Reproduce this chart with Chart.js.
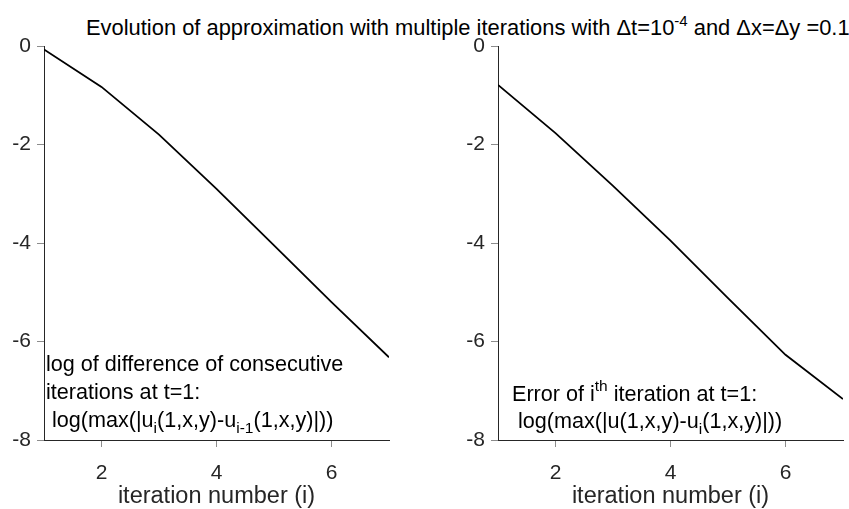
<!DOCTYPE html>
<html>
<head>
<meta charset="utf-8">
<script src="https://cdn.jsdelivr.net/npm/chart.js@4"></script>
<style>
body{margin:0;background:#fff;width:849px;height:509px;overflow:hidden;position:relative;font-family:"Liberation Sans",Arial,sans-serif;}
#title{position:absolute;left:86px;top:17px;font-size:21.9px;line-height:21px;color:#000;white-space:nowrap;}
#title sup{font-size:15px;vertical-align:0;position:relative;top:-9px;}
.box{position:absolute;top:0;height:509px;}
</style>
</head>
<body>
<div id="title">Evolution of approximation with multiple iterations with &Delta;t=10<sup>-4</sup> and &Delta;x=&Delta;y =0.1</div>
<div class="box" style="left:0;width:425px"><canvas id="c1" width="425" height="509"></canvas></div>
<div class="box" style="left:425px;width:424px"><canvas id="c2" width="424" height="509"></canvas></div>
<script>
var iterations = [1, 2, 3, 4, 5, 6, 7];
var diffLog = [-0.07, -0.83, -1.8, -2.9, -4.05, -5.2, -6.32];
var errorLog = [-0.79, -1.77, -2.84, -3.95, -5.12, -6.27, -7.17];
var xTicks = [2, 4, 6];
var yTicks = [0, -2, -4, -6, -8];
var xTitle = 'iteration number (i)';

// text lines inside the plots, each part: [text, '' | 'sub' | 'sup']
var diffNote = [
  [['log of difference of consecutive', '']],
  [['iterations at t=1:', '']],
  [[' log(max(|u', ''], ['i', 'sub'], ['(1,x,y)-u', ''], ['i-1', 'sub'], ['(1,x,y)|))', '']]
];
var errorNote = [
  [['Error of i', ''], ['th', 'sup'], [' iteration at t=1:', '']],
  [[' log(max(|u(1,x,y)-u', ''], ['i', 'sub'], ['(1,x,y)|))', '']]
];

var FONT = '"Liberation Sans", Arial, sans-serif';
var AXIS = '#262626';

function drawRich(ctx, x, y, parts) {
  parts.forEach(function (p) {
    var size = p[1] ? 15.5 : 21.6;
    ctx.font = size + 'px ' + FONT;
    var dy = p[1] === 'sub' ? 6 : (p[1] === 'sup' ? -10 : 0);
    ctx.fillText(p[0], x, y + dy);
    x += ctx.measureText(p[0]).width;
  });
}

var notePlugin = {
  id: 'notes',
  afterDraw: function (chart, args, opts) {
    var ctx = chart.ctx;
    ctx.save();
    ctx.fillStyle = '#000';
    ctx.textBaseline = 'alphabetic';
    ctx.textAlign = 'left';
    opts.lines.forEach(function (line, i) {
      drawRich(ctx, opts.x, opts.y[i], line);
    });
    ctx.restore();
  }
};

function makeChart(id, values, yWidth, padRight, note, noteX, noteY) {
  var points = [];
  for (var i = 0; i < iterations.length; i++) {
    points.push({x: iterations[i], y: values[i]});
  }
  return new Chart(document.getElementById(id), {
    type: 'line',
    data: {
      datasets: [{
        data: points,
        borderColor: '#000',
        borderWidth: 1.8,
        pointRadius: 0,
        tension: 0,
        fill: false
      }]
    },
    options: {
      responsive: false,
      animation: false,
      devicePixelRatio: 1,
      layout: {padding: {top: 46, right: padRight, left: 0, bottom: 0}},
      plugins: {
        legend: {display: false},
        tooltip: {enabled: false},
        notes: {lines: note, x: noteX, y: noteY}
      },
      scales: {
        x: {
          type: 'linear',
          min: 1,
          max: 7,
          afterBuildTicks: function (s) { s.ticks = xTicks.map(function (v) { return {value: v}; }); },
          afterFit: function (s) { s.height = 69; },
          grid: {drawOnChartArea: false, tickLength: 7, color: '#8c8c8c'},
          border: {color: AXIS, width: 1},
          ticks: {color: AXIS, font: {size: 21, family: FONT}, padding: 14, maxRotation: 0},
          title: {display: true, text: xTitle, color: AXIS, font: {size: 23.5, family: FONT}, padding: {top: 1, bottom: -2}}
        },
        y: {
          type: 'linear',
          min: -8,
          max: 0,
          afterBuildTicks: function (s) { s.ticks = yTicks.map(function (v) { return {value: v}; }); },
          afterFit: function (s) { s.width = yWidth; },
          grid: {drawOnChartArea: false, tickLength: 7, color: '#8c8c8c'},
          border: {color: AXIS, width: 1},
          ticks: {color: AXIS, font: {size: 21, family: FONT}, padding: 6}
        }
      }
    },
    plugins: [notePlugin]
  });
}

makeChart('c1', diffLog, 44, 36, diffNote, 46, [371, 399, 427]);
makeChart('c2', errorLog, 73, 6, errorNote, 87, [401, 428]);
</script>
</body>
</html>
